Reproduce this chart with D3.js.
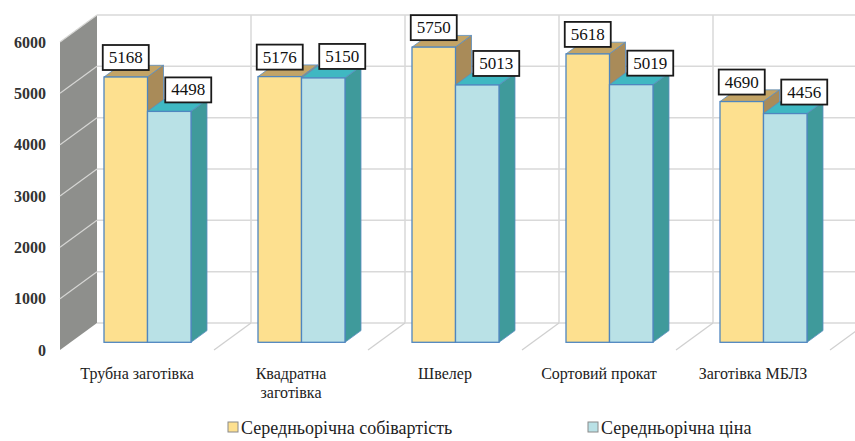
<!DOCTYPE html>
<html>
<head>
<meta charset="utf-8">
<script src="https://cdn.jsdelivr.net/npm/d3@7"></script>
<style>
    body { margin: 0; background: #fff; }
    svg, svg text { font-family: "Liberation Serif", "DejaVu Serif", "Noto Serif", serif; }
</style>
</head>
<body>
<div id="chart"></div>
<script>
// chart data
const categories = ["Трубна заготівка", "Квадратна\nзаготівка", "Швелер", "Сортовий прокат", "Заготівка МБЛЗ"];
const costValues = [5168, 5176, 5750, 5618, 4690];
const priceValues = [4498, 5150, 5013, 5019, 4456];
const seriesNames = ["Середньорічна собівартість", "Середньорічна ціна"];
const yTicks = [0, 1000, 2000, 3000, 4000, 5000, 6000];

const svg_w = 855, svg_h = 441;

const svg = d3.select("#chart")
    .append("svg")
    .attr("width", svg_w)
    .attr("height", svg_h);

// front plane scales
const x = d3.scaleBand()
    .domain(d3.range(categories.length))
    .range([60, 830]);

const y = d3.scaleLinear()
    .domain([0, 6000])
    .range([350, 42]);

// 3d depth of the floor / back wall
const DX = 37, DY = -27;
// bars sit in the middle of the depth
const BX = 10.5, BY = -7.7;
const BDX = 16, BDY = -11.7;

const x1 = d3.scaleBand()
    .domain([0, 1])
    .range([0, x.bandwidth()])
    .paddingOuter(0.77)
    .paddingInner(0);

const series = [
    { name: seriesNames[0], values: costValues, front: "#fde08f", top: "#c3a466", side: "#a98b59", lab_dx: 0, lab_dy: 7 },
    { name: seriesNames[1], values: priceValues, front: "#b9e1e6", top: "#3fb8c2", side: "#3f9a9b", lab_dx: 19, lab_dy: 9 },
];

// side wall (grey)
svg.append("polygon")
    .attr("points", [[x(0), y(6000)], [x(0) + DX, y(6000) + DY], [x(0) + DX, y(0) + DY], [x(0), y(0)]].join(" "))
    .attr("fill", "#8e8f8c");

// back wall gridlines
const xEnd = x.range()[1] + DX;
svg.append("g")
    .selectAll("line")
    .data(yTicks)
    .join("line")
    .attr("x1", x(0) + DX)
    .attr("x2", xEnd)
    .attr("y1", d => y(d) + DY)
    .attr("y2", d => y(d) + DY)
    .attr("stroke", "#d9d9d9")
    .attr("stroke-width", 1.5);

// gridlines on side wall
svg.append("g")
    .selectAll("line")
    .data(yTicks.slice(1))
    .join("line")
    .attr("x1", x(0))
    .attr("y1", d => y(d))
    .attr("x2", x(0) + DX)
    .attr("y2", d => y(d) + DY)
    .attr("stroke", "#d6d6d4")
    .attr("stroke-width", 1.2);

// vertical lines on back wall + floor diagonals
const bounds = d3.range(1, categories.length + 1).map(i => x.range()[0] + i * x.step());
svg.append("g")
    .selectAll("line")
    .data(bounds.slice(0, -1))
    .join("line")
    .attr("x1", d => d + DX)
    .attr("x2", d => d + DX)
    .attr("y1", y(6000) + DY)
    .attr("y2", y(0) + DY)
    .attr("stroke", "#d9d9d9")
    .attr("stroke-width", 1.5);

svg.append("g")
    .selectAll("line")
    .data(bounds)
    .join("line")
    .attr("x1", d => d + DX)
    .attr("y1", y(0) + DY)
    .attr("x2", d => d)
    .attr("y2", y(0))
    .attr("stroke", "#d0d0d0")
    .attr("stroke-width", 1.3);

// y axis labels
const yAxis = d3.axisLeft(y).tickValues(yTicks).tickSize(0).tickPadding(0).tickFormat(d3.format("d"));
svg.append("g")
    .attr("transform", "translate(46,0)")
    .call(yAxis)
    .attr("font-family", null)
    .call(g => g.select(".domain").remove())
    .selectAll("text")
    .attr("font-size", 16)
    .attr("font-weight", "bold")
    .attr("fill", "#333");

// bars
const bars = svg.append("g");
categories.forEach((c, i) => {
    series.forEach((s, j) => {
        const v = s.values[i];
        const l = x(i) + BX + x1(j);
        const r = l + x1.bandwidth();
        const t = y(v) + BY;
        const b = y(0) + BY;
        const g = bars.append("g");
        // top face
        g.append("polygon")
            .attr("points", [[l, t], [l + BDX, t + BDY], [r + BDX, t + BDY], [r, t]].join(" "))
            .attr("fill", s.top)
            .attr("stroke", "#5b8ec0")
            .attr("stroke-width", 0.8);
        // side face
        g.append("polygon")
            .attr("points", [[r, t], [r + BDX, t + BDY], [r + BDX, b + BDY], [r, b]].join(" "))
            .attr("fill", s.side)
            .attr("stroke", "#5b8ec0")
            .attr("stroke-width", 0.8);
        // front face
        g.append("rect")
            .attr("x", l)
            .attr("y", t)
            .attr("width", r - l)
            .attr("height", b - t)
            .attr("fill", s.front)
            .attr("stroke", "#4f86bf")
            .attr("stroke-width", 1.3);
    });
});

// data labels
const labels = svg.append("g");
categories.forEach((c, i) => {
    series.forEach((s, j) => {
        const v = s.values[i];
        const cx = x(i) + BX + x1(j) + x1.bandwidth() / 2 + s.lab_dx;
        const bottom = y(v) + BY - s.lab_dy;
        labels.append("rect")
            .attr("x", cx - 23)
            .attr("y", bottom - 25)
            .attr("width", 46)
            .attr("height", 25)
            .attr("fill", "#fff")
            .attr("stroke", "#1a1a1a")
            .attr("stroke-width", 1.8);
        labels.append("text")
            .attr("x", cx)
            .attr("y", bottom - 7)
            .attr("text-anchor", "middle")
            .attr("font-size", 17)
            .attr("fill", "#111")
            .text(v);
    });
});

// category labels
const xl = svg.append("g");
categories.forEach((c, i) => {
    const t = xl.append("text")
        .attr("x", x(i) + x.bandwidth() / 2)
        .attr("y", 379)
        .attr("text-anchor", "middle")
        .attr("font-size", 16)
        .attr("fill", "#222");
    c.split("\n").forEach((line, k) => {
        t.append("tspan")
            .attr("x", x(i) + x.bandwidth() / 2)
            .attr("dy", k === 0 ? 0 : 19)
            .text(line);
    });
});

// legend
const legendX = [228, 588];
const legend = svg.append("g");
series.forEach((s, j) => {
    legend.append("rect")
        .attr("x", legendX[j])
        .attr("y", 422)
        .attr("width", 10)
        .attr("height", 10)
        .attr("fill", s.front)
        .attr("stroke", "#8a8a8a")
        .attr("stroke-width", 1);
    legend.append("text")
        .attr("x", legendX[j] + 13)
        .attr("y", 434)
        .attr("font-size", 18)
        .attr("fill", "#222")
        .text(s.name);
});
</script>
</body>
</html>
